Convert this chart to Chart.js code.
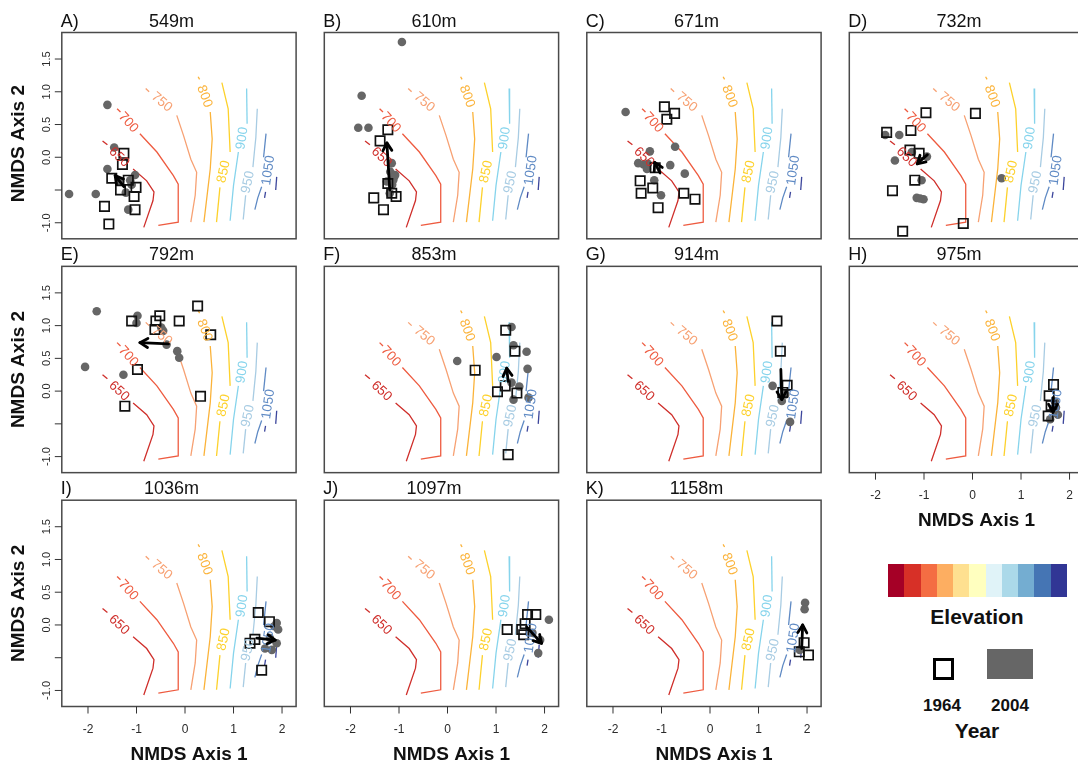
<!DOCTYPE html>
<html><head><meta charset="utf-8">
<script src="https://cdn.jsdelivr.net/npm/chart.js@4.4.1/dist/chart.umd.min.js"></script>
<style>
html,body{margin:0;padding:0;background:#fff;width:1078px;height:765px;overflow:hidden;position:relative;font-family:"Liberation Sans",Arial,sans-serif;}
canvas{position:absolute;}
.lg{position:absolute;text-align:center;font-weight:bold;color:#111;white-space:nowrap;}
</style></head><body>
<script>
// ---------- labels & ticks ----------
const panelLetters = ['A)','B)','C)','D)','E)','F)','G)','H)','I)','J)','K)'];
const elevations = ['549m','610m','671m','732m','792m','853m','914m','975m','1036m','1097m','1158m'];
const axis1Ticks = [-2,-1,0,1,2];
const axis2Ticks = [-1,-0.5,0,0.5,1,1.5];
const axis2TickLabels = ['-1.0','','0.0','0.5','1.0','1.5'];
const axis1Range = [-2.54, 2.29];
const axis2Range = [-1.245, 1.905];
const legendElevation = ['#a50026','#d73027','#f46d43','#fdae61','#fee090','#ffffbf','#e0f3f8','#abd9e9','#74add1','#4575b4','#313695'];
const yearLabels = ['1964','2004'];

// ---------- elevation contours (NMDS space) ----------
const contourLevels = ['650','700','750','800','850','900','950','1050','1100'];
const contour650 = [[[-1.70,0.25],[-1.60,0.19]],[[-1.07,-0.18],[-0.79,-0.36],[-0.64,-0.53],[-0.66,-0.66],[-0.85,-1.07]]];
const contour700 = [[[-1.40,0.74],[-1.33,0.69]],[[-0.93,0.36],[-0.58,0.08],[-0.24,-0.28],[-0.14,-0.41],[-0.14,-0.99],[-0.55,-1.04]]];
const contour750 = [[[-0.81,1.05],[-0.74,1.00]],[[-0.17,0.64],[-0.03,0.33],[0.12,-0.03],[0.24,-0.23],[0.21,-0.58],[0.12,-0.99]]];
const contour800 = [[[0.27,1.23],[0.30,1.19]],[[0.52,0.69],[0.56,0.28],[0.52,-0.18],[0.39,-0.99]]];
const contour850 = [[[0.76,1.14],[0.89,0.74],[0.93,0.08]],[[0.72,-0.46],[0.65,-0.99]]];
const contour900 = [[[1.27,1.05],[1.28,0.51]],[[1.10,0.08],[1.00,-0.43],[0.93,-0.97]]];
const contour950 = [[[1.49,0.74],[1.46,0.30],[1.43,0.08],[1.40,-0.15]],[[1.25,-0.58],[1.20,-0.95]]];
const contour1050 = [[[1.67,0.36],[1.62,0.00]],[[1.58,-0.45],[1.50,-0.62],[1.44,-0.80]]];
const contour1100 = [[[1.89,-0.30],[1.87,-0.50]],[[1.66,-0.53],[1.64,-0.62]]];
// label anchor: x, y, angle (deg)
const contourLabelAt = [[-1.36,0.00,43],[-1.17,0.53,48],[-0.48,0.84,40],[0.40,0.93,70],[0.80,-0.22,-78],[1.18,0.29,-82],[1.30,-0.38,-78],[1.72,-0.20,-82],null];
const contourColors = ['#cf2f2b','#ee5b40','#f7a173','#fbb33a','#fdd12b','#86d4ec','#a8cce3','#5f8ac4','#3c469c'];

// ---------- site scores: 1964 (squares) and 2004 (circles), centroid shift arrows ----------
const sq1964_A = [[-1.26,0.06],[-1.29,-0.11],[-1.51,-0.32],[-1.17,-0.35],[-1.33,-0.50],[-1.01,-0.46],[-1.05,-0.60],[-1.66,-0.75],[-1.03,-0.80],[-1.57,-1.02]];
const pt2004_A = [[-1.60,0.80],[-1.46,0.15],[-1.60,-0.18],[-2.39,-0.56],[-1.84,-0.56],[-1.22,-0.54],[-1.13,-0.35],[-1.03,-0.27],[-1.17,-0.80],[-1.34,-0.37],[-1.10,-0.42]];
const arrow_A = [[-1.26,-0.45],[-1.44,-0.28]];

const sq1964_B = [[-1.23,0.42],[-1.39,0.25],[-1.23,-0.40],[-1.15,-0.55],[-1.06,-0.60],[-1.52,-0.62],[-1.32,-0.80]];
const pt2004_B = [[-0.94,1.76],[-1.77,0.94],[-1.84,0.45],[-1.63,0.45],[-1.15,-0.09],[-1.08,-0.27],[-1.12,-0.35],[-1.25,-0.37],[-1.19,-0.55],[-1.18,-0.22],[-1.10,-0.30],[-1.14,-0.42]];
const arrow_B = [[-1.19,-0.50],[-1.25,0.22]];

const sq1964_C = [[-0.94,0.77],[-0.73,0.67],[-0.89,0.58],[-1.13,-0.16],[-1.44,-0.36],[-1.18,-0.47],[-1.42,-0.55],[-0.54,-0.55],[-0.31,-0.64],[-1.07,-0.77]];
const pt2004_C = [[-1.74,0.69],[-0.72,0.16],[-1.24,0.09],[-1.37,-0.11],[-1.28,-0.10],[-0.82,-0.12],[-0.52,-0.25],[-1.15,-0.35],[-1.01,-0.58],[-1.48,-0.09],[-1.30,-0.18]];
const arrow_C = [[-1.03,-0.24],[-1.14,-0.08]];

const sq1964_D = [[-0.96,0.68],[0.06,0.67],[-1.77,0.38],[-1.27,0.41],[-1.29,0.11],[-1.10,0.06],[-1.19,-0.35],[-1.65,-0.51],[-0.19,-1.01],[-1.44,-1.13]];
const pt2004_D = [[-1.80,0.34],[-1.51,0.34],[-1.25,0.08],[-1.60,-0.05],[-0.94,0.01],[-1.05,-0.35],[-1.15,-0.62],[-1.01,-0.64],[0.60,-0.32],[-1.08,-0.63]];
const arrow_D = [[-0.93,0.04],[-1.14,-0.10]];

const sq1964_E = [[0.26,1.30],[-0.52,1.15],[-1.10,1.07],[-0.60,1.07],[-0.12,1.07],[-0.62,0.94],[0.53,0.86],[-0.98,0.33],[0.32,-0.08],[-1.24,-0.23]];
const pt2004_E = [[-1.82,1.22],[-0.98,1.15],[-1.00,1.04],[-0.49,0.97],[-0.45,0.92],[-0.38,0.71],[-0.16,0.61],[-0.12,0.51],[-2.06,0.37],[-1.27,0.25]];
const arrow_E = [[-0.34,0.72],[-0.93,0.74]];

const sq1964_F = [[1.20,0.93],[1.39,0.61],[0.57,0.32],[1.19,0.08],[1.03,-0.01],[1.43,-0.03],[1.25,-0.97]];
const pt2004_F = [[1.32,0.98],[1.36,0.70],[1.63,0.60],[1.01,0.52],[0.20,0.46],[1.65,0.34],[1.32,0.13],[1.48,0.07],[1.67,-0.10],[1.36,-0.13]];
const arrow_F = [[1.25,0.15],[1.22,0.35]];

const sq1964_G = [[1.38,1.07],[1.45,0.61],[1.59,0.09],[1.50,-0.02]];
const pt2004_G = [[1.29,0.08],[1.48,-0.15],[1.65,-0.47],[1.55,-0.05]];
const arrow_G = [[1.46,0.33],[1.48,-0.13]];

const sq1964_H = [[1.67,0.10],[1.58,-0.07],[1.62,-0.22],[1.56,-0.38]];
const pt2004_H = [[1.66,-0.28],[1.76,-0.36],[1.60,-0.43],[1.70,-0.16],[1.72,-0.25]];
const arrow_H = [[1.66,-0.10],[1.66,-0.32]];

const sq1964_I = [[1.51,0.19],[1.74,0.05],[1.44,-0.22],[1.34,-0.28],[1.58,-0.69]];
const pt2004_I = [[1.89,0.03],[1.92,-0.07],[1.89,-0.28],[1.79,-0.38],[1.65,-0.36],[1.84,-0.02],[1.75,-0.20]];
const arrow_I = [[1.48,-0.20],[1.86,-0.23]];

const sq1964_J = [[1.65,0.16],[1.82,0.16],[1.60,0.02],[1.23,-0.07],[1.53,-0.07],[1.57,-0.15]];
const pt2004_J = [[2.09,0.08],[1.87,-0.43],[1.91,-0.23],[1.75,-0.12]];
const arrow_J = [[1.63,-0.03],[1.94,-0.28]];

const sq1964_K = [[1.94,-0.27],[1.84,-0.41],[2.03,-0.46]];
const pt2004_K = [[1.96,0.34],[1.95,0.24],[1.85,-0.38]];
const arrow_K = [[1.89,-0.36],[1.91,0.00]];

// ---------- assembly ----------
const squaresByPanel = [sq1964_A,sq1964_B,sq1964_C,sq1964_D,sq1964_E,sq1964_F,sq1964_G,sq1964_H,sq1964_I,sq1964_J,sq1964_K];
const circlesByPanel = [pt2004_A,pt2004_B,pt2004_C,pt2004_D,pt2004_E,pt2004_F,pt2004_G,pt2004_H,pt2004_I,pt2004_J,pt2004_K];
const arrowsByPanel = [arrow_A,arrow_B,arrow_C,arrow_D,arrow_E,arrow_F,arrow_G,arrow_H,arrow_I,arrow_J,arrow_K];
const contourSegments = [contour650,contour700,contour750,contour800,contour850,contour900,contour950,contour1050,contour1100];

const FONT = '"Liberation Sans", Arial, sans-serif';
const toXY = a => a.map(p => ({x:p[0], y:p[1]}));

const decor = {
  id: 'decor',
  afterDatasetsDraw(chart) {
    const o = chart.options.plugins.decor;
    const {ctx, scales:{x, y}, chartArea:a} = chart;
    ctx.save();
    ctx.beginPath(); ctx.rect(a.left, a.top, a.width, a.height); ctx.clip();
    // contour labels
    contourLabelAt.forEach((lab, i) => {
      if (!lab) return;
      ctx.save();
      ctx.translate(x.getPixelForValue(lab[0]), y.getPixelForValue(lab[1]));
      ctx.rotate(lab[2] * Math.PI / 180);
      ctx.font = '13.5px ' + FONT;
      ctx.fillStyle = contourColors[i];
      ctx.textAlign = 'center'; ctx.textBaseline = 'middle';
      ctx.fillText(contourLevels[i], 0, 0);
      ctx.restore();
    });
    // centroid shift arrow
    const ar = o.arrow;
    const x1 = x.getPixelForValue(ar[0][0]), y1 = y.getPixelForValue(ar[0][1]);
    const x2 = x.getPixelForValue(ar[1][0]), y2 = y.getPixelForValue(ar[1][1]);
    ctx.strokeStyle = '#000'; ctx.lineWidth = 2.8; ctx.lineCap = 'round'; ctx.lineJoin = 'round';
    ctx.beginPath(); ctx.moveTo(x1, y1); ctx.lineTo(x2, y2); ctx.stroke();
    const ang = Math.atan2(y2 - y1, x2 - x1), L = 9, w = Math.PI / 6;
    ctx.beginPath();
    ctx.moveTo(x2 - L * Math.cos(ang - w), y2 - L * Math.sin(ang - w));
    ctx.lineTo(x2, y2);
    ctx.lineTo(x2 - L * Math.cos(ang + w), y2 - L * Math.sin(ang + w));
    ctx.stroke();
    ctx.restore();
  },
  afterDraw(chart) {
    const o = chart.options.plugins.decor;
    const {ctx, scales:{x, y}, chartArea:a} = chart;
    ctx.save();
    // box
    ctx.strokeStyle = '#4a4a4a'; ctx.lineWidth = 1.5;
    ctx.strokeRect(a.left, a.top, a.width, a.height);
    // titles
    ctx.fillStyle = '#111';
    ctx.font = '18px ' + FONT;
    ctx.textBaseline = 'alphabetic';
    ctx.textAlign = 'left';
    ctx.fillText(o.letter, a.left - 1, a.top - 6);
    ctx.textAlign = 'center';
    ctx.fillText(o.elev, x.getPixelForValue(0) - 13.5, a.top - 6);
    ctx.strokeStyle = '#333'; ctx.lineWidth = 1; ctx.fillStyle = '#2a2a2a';
    if (o.yAxis) {
      axis2Ticks.forEach((t, i) => {
        const py = y.getPixelForValue(t);
        ctx.beginPath(); ctx.moveTo(a.left, py); ctx.lineTo(a.left - 7, py); ctx.stroke();
        if (axis2TickLabels[i]) {
          ctx.save(); ctx.translate(a.left - 15, py); ctx.rotate(-Math.PI / 2);
          ctx.font = '11px ' + FONT; ctx.textAlign = 'center'; ctx.textBaseline = 'middle';
          ctx.fillText(axis2TickLabels[i], 0, 0); ctx.restore();
        }
      });
      ctx.save(); ctx.translate(a.left - 43, (a.top + a.bottom) / 2 + o.yTitleShift); ctx.rotate(-Math.PI / 2);
      ctx.font = 'bold 19px ' + FONT; ctx.fillStyle = '#111'; ctx.textAlign = 'center'; ctx.textBaseline = 'middle';
      ctx.fillText('NMDS Axis 2', 0, 0); ctx.restore();
    }
    if (o.xAxis) {
      axis1Ticks.forEach(t => {
        const px = x.getPixelForValue(t);
        ctx.beginPath(); ctx.moveTo(px, a.bottom); ctx.lineTo(px, a.bottom + 7); ctx.stroke();
        ctx.font = '12px ' + FONT; ctx.textAlign = 'center'; ctx.textBaseline = 'middle';
        ctx.fillText(String(t), px, a.bottom + 23);
      });
      ctx.font = 'bold 19px ' + FONT; ctx.fillStyle = '#111'; ctx.textAlign = 'center'; ctx.textBaseline = 'alphabetic';
      ctx.fillText('NMDS Axis 1', x.getPixelForValue(0) + 4, a.bottom + 53);
    }
    ctx.restore();
  }
};

const BOX_W = 234.3, BOX_H = 206.3;
for (let i = 0; i < 11; i++) {
  const col = i % 4, row = Math.floor(i / 4);
  const boxLeft = 61.8 + 262.5 * col, boxTop = 32.5 + 233.85 * row;
  const cl = Math.floor(boxLeft - 62), ct = Math.floor(boxTop - 33);
  const cw = Math.ceil(boxLeft + BOX_W + 10) - cl, ch = Math.ceil(boxTop + BOX_H + 62) - ct;
  const cv = document.createElement('canvas');
  cv.width = cw; cv.height = ch;
  cv.style.left = cl + 'px'; cv.style.top = ct + 'px';
  cv.style.width = cw + 'px'; cv.style.height = ch + 'px';
  document.body.appendChild(cv);
  const padL = boxLeft - cl, padT = boxTop - ct;
  const datasets = [];
  datasets.push({label:'1964', data: toXY(squaresByPanel[i]), pointStyle:'rect', pointRadius:6.6,
    borderColor:'#111', borderWidth:1.7, backgroundColor:'rgba(0,0,0,0)', showLine:false, order:1});
  datasets.push({label:'2004', data: toXY(circlesByPanel[i]), pointStyle:'circle', pointRadius:4.3,
    borderColor:'#666', borderWidth:0, backgroundColor:'#666', showLine:false, order:2});
  contourSegments.forEach((segs, k) => segs.forEach(seg => datasets.push({
    label: contourLevels[k], data: toXY(seg), showLine:true, pointRadius:0, borderColor: contourColors[k],
    borderWidth:1.3, fill:false, tension:0, order:3
  })));
  new Chart(cv, {
    type: 'scatter',
    data: {datasets},
    options: {
      responsive:false, animation:false, devicePixelRatio:1,
      layout:{padding:{left:padL, top:padT, right: cw - padL - BOX_W, bottom: ch - padT - BOX_H}},
      scales:{
        x:{type:'linear', min:axis1Range[0], max:axis1Range[1], display:false},
        y:{type:'linear', min:axis2Range[0], max:axis2Range[1], display:false}
      },
      plugins:{legend:{display:false}, tooltip:{enabled:false},
        decor:{letter:panelLetters[i], elev:elevations[i], arrow:arrowsByPanel[i],
          yAxis: col === 0, xAxis: (row === 2 || i === 7), yTitleShift: row === 0 ? 8 : 0}}
    },
    plugins:[decor]
  });
}

// ---------- legend ----------
function addDiv(css, html) {
  const d = document.createElement('div'); d.className = 'lg';
  Object.assign(d.style, css); if (html) d.textContent = html;
  document.body.appendChild(d); return d;
}
const bar = addDiv({left:'888px', top:'564px', width:'179px', height:'33px', display:'flex'});
legendElevation.forEach(c => { const s = document.createElement('div'); s.style.flex = '1'; s.style.background = c; bar.appendChild(s); });
addDiv({left:'917px', width:'120px', top:'606px', fontSize:'21px', lineHeight:'21px'}, 'Elevation');
addDiv({left:'932.5px', top:'658px', width:'21px', height:'22px', border:'3.5px solid #000', boxSizing:'border-box'});
addDiv({left:'987px', top:'649px', width:'46px', height:'30px', background:'#666'});
addDiv({left:'902px', width:'80px', top:'697px', fontSize:'17px', lineHeight:'17px'}, yearLabels[0]);
addDiv({left:'970px', width:'80px', top:'697px', fontSize:'17px', lineHeight:'17px'}, yearLabels[1]);
addDiv({left:'927px', width:'100px', top:'720px', fontSize:'21px', lineHeight:'21px'}, 'Year');
</script>
</body></html>
